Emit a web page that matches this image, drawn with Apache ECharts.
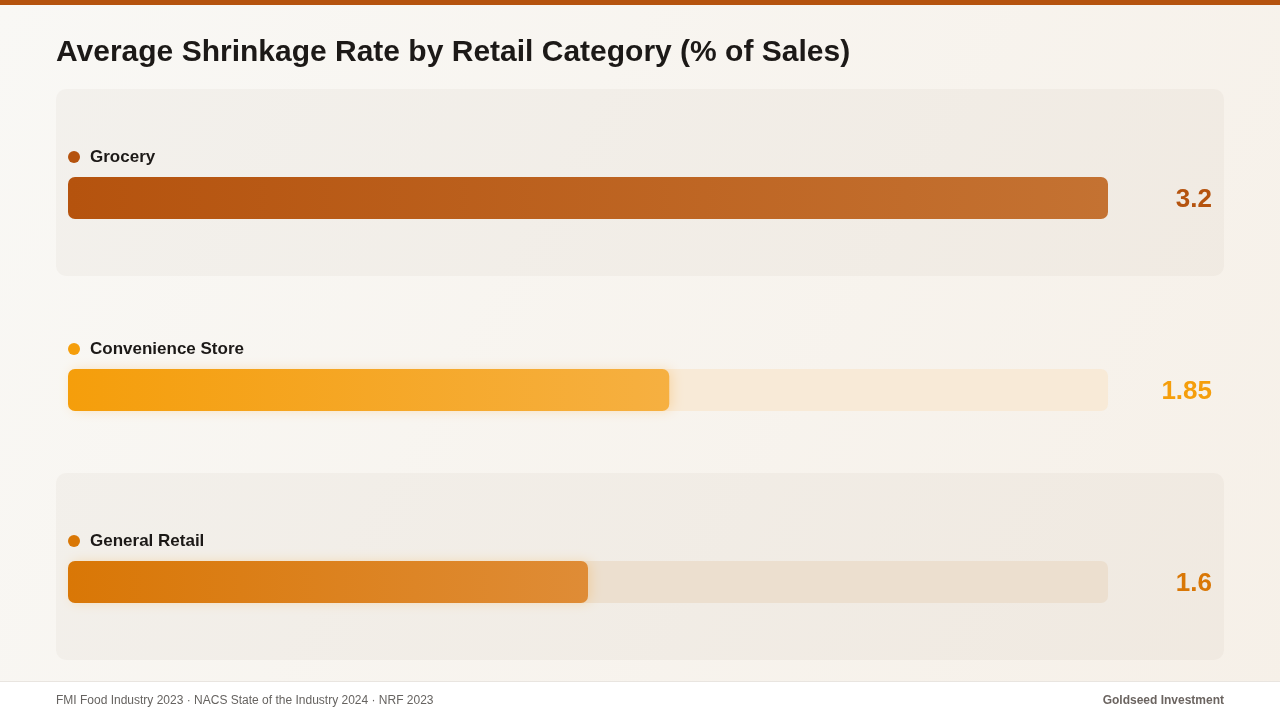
<!DOCTYPE html>
<html>
<head>
<meta charset="utf-8">
<title>Average Shrinkage Rate by Retail Category</title>
<script src="https://cdn.jsdelivr.net/npm/echarts@6/dist/echarts.min.js"></script>
<style>
  html, body { margin: 0; padding: 0; }
  #chart { width: 1280px; height: 720px; }
</style>
</head>
<body>
<div id="chart"></div>
<script>
// data
const categories = ['Grocery', 'Convenience Store', 'General Retail']
const values = [3.2, 1.85, 1.6]
const valueLabels = ['3.2', '1.85', '1.6']

// styles per row
const barColors = ['#b5530e', '#f59e0b', '#d97706']
const barColorsEnd = ['#c47232', '#f6b041', '#df8c36']
const trackColors = ['rgba(0,0,0,0)', '#f8ead7', '#ecdfcf']

const FONT = '"Liberation Sans", Arial, Helvetica, sans-serif'
const maxValue = Math.max(...values)

const myChart = echarts.init(document.getElementById('chart'))

// alternating panels (rows 0 and 2)
const panels = [0, 2].map(i => ({
  type: 'rect',
  shape: { x: 56, y: 89 + i * 192, width: 1168, height: 187, r: 10 },
  style: { fill: 'rgba(120, 100, 70, 0.045)' },
  z: 0
}))

const option = {
  animation: false,
  backgroundColor: new echarts.graphic.LinearGradient(0, 0, 1, 1, [
    { offset: 0, color: '#f9f8f5' },
    { offset: 1, color: '#f6f0e8' }
  ]),
  title: {
    text: 'Average Shrinkage Rate by Retail Category (% of Sales)',
    left: 56,
    top: 38,
    padding: 0,
    textStyle: { fontFamily: FONT, fontSize: 30, fontWeight: 'bold', color: '#1c1917' }
  },
  grid: { left: 68, width: 1040, top: 102, height: 576 },
  xAxis: {
    type: 'value',
    min: 0,
    max: maxValue,
    show: false
  },
  yAxis: {
    type: 'category',
    data: categories,
    inverse: true,
    show: false
  },
  graphic: [
    {
      type: 'rect',
      shape: { x: 0, y: 0, width: 1280, height: 5 },
      style: { fill: '#b5530e' },
      z: 10
    },
    ...panels,
    {
      type: 'rect',
      shape: { x: 0, y: 681, width: 1280, height: 39 },
      style: { fill: '#ffffff' },
      z: 1
    },
    {
      type: 'line',
      shape: { x1: 0, y1: 681.5, x2: 1280, y2: 681.5 },
      style: { stroke: '#e9e5e0', lineWidth: 1 },
      z: 2
    },
    {
      type: 'text',
      left: 56,
      top: 695,
      style: {
        text: 'FMI Food Industry 2023 · NACS State of the Industry 2024 · NRF 2023',
        fontFamily: FONT, fontSize: 12, fill: '#666360'
      },
      z: 2
    },
    {
      type: 'text',
      right: 56,
      top: 695,
      style: {
        text: 'Goldseed Investment',
        fontFamily: FONT, fontSize: 12, fontWeight: 'bold', fill: '#6b6460'
      },
      z: 2
    }
  ],
  series: [
    {
      // track
      type: 'bar',
      barWidth: 42,
      barGap: '-100%',
      silent: true,
      z: 2,
      data: values.map((v, i) => ({
        value: maxValue,
        itemStyle: { color: trackColors[i], borderRadius: 7 },
        label: {
          show: true,
          position: ['100%', '50%'],
          offset: [104, 2],
          align: 'right',
          verticalAlign: 'middle',
          formatter: valueLabels[i],
          fontFamily: FONT,
          fontSize: 26,
          fontWeight: 'bold',
          color: barColors[i]
        }
      }))
    },
    {
      // value bar
      type: 'bar',
      barWidth: 42,
      barGap: '-100%',
      z: 3,
      data: values.map((v, i) => ({
        value: v,
        itemStyle: {
          borderRadius: 7,
          color: new echarts.graphic.LinearGradient(0, 0, 1, 0, [
            { offset: 0, color: barColors[i] },
            { offset: 1, color: barColorsEnd[i] }
          ]),
          shadowBlur: i === 0 ? 0 : 12,
          shadowOffsetX: i === 0 ? 0 : 3,
          shadowColor: i === 0 ? 'rgba(0,0,0,0)' : 'rgba(245, 170, 60, 0.28)'
        },
        label: {
          show: true,
          position: [0, -20],
          verticalAlign: 'middle',
          formatter: '{dot|}{name|' + categories[i] + '}',
          rich: {
            dot: {
              width: 12,
              height: 12,
              borderRadius: 6,
              backgroundColor: barColors[i]
            },
            name: {
              fontFamily: FONT,
              fontSize: 17,
              fontWeight: 'bold',
              color: '#1c1917',
              padding: [0, 0, 0, 10]
            }
          }
        }
      }))
    }
  ]
}

myChart.setOption(option)
</script>
</body>
</html>
